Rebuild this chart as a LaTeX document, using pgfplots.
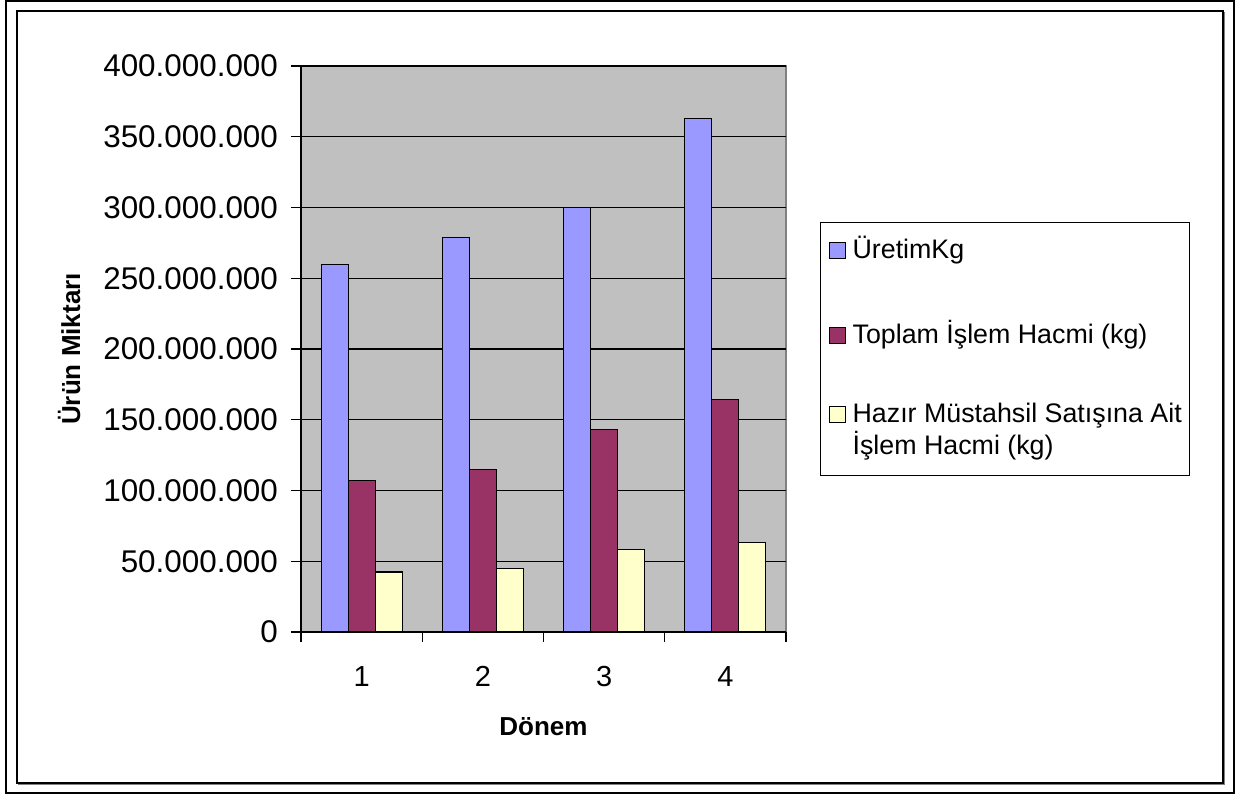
\documentclass[border=0pt]{standalone}
\usepackage{fontspec}
\setmainfont{Liberation Sans}
\usepackage{pgfplots}
\pgfplotsset{compat=1.18}
\definecolor{uretim}{HTML}{9999FF}
\definecolor{toplam}{HTML}{993366}
\definecolor{hazir}{HTML}{FFFFCC}
\definecolor{plotbg}{HTML}{C0C0C0}

\begin{document}
\begin{tikzpicture}
\path[use as bounding box] (0,0) rectangle (626.5pt,397pt);
% outer frames
\draw[line width=1pt] (3pt,0.5pt) rectangle (617pt,396.5pt);
\draw[gray, line width=0.75pt] (9.25pt,4.75pt) rectangle (612.25pt,390.75pt);
\draw[line width=0.75pt, fill=white] (8.5pt,5.5pt) rectangle (611.5pt,391.5pt);
\begin{axis}[
  at={(150.5pt,81pt)}, anchor=south west,
  scale only axis, width=242.5pt, height=283pt,
  ybar=0pt, bar width=0.2227,
  xmin=0.5, xmax=4.5, ymin=0, ymax=400000000,
  axis x line*=bottom, axis y line*=left,
  axis line style={black, line width=0.6pt},
  axis background/.style={fill=plotbg, draw=gray, line width=0.6pt},
  xtick={0.5,1.5,2.5,3.5,4.5},
  xticklabels={1,2,3,4},
  x tick label as interval,
  ytick={0,50000000,100000000,150000000,200000000,250000000,300000000,350000000,400000000},
  scaled y ticks=false,
  yticklabel style={font=\fontsize{15.7}{18}\selectfont, xshift=-3pt,
    /pgf/number format/fixed, /pgf/number format/precision=0,
    /pgf/number format/1000 sep={.}, /pgf/number format/assume math mode=true},
  xticklabel style={font=\fontsize{14.5}{17}\selectfont, yshift=-8.5pt,
    /pgf/number format/assume math mode=true},
  tick align=outside, major tick length=5pt,
  tick style={black, line width=0.6pt},
  ymajorgrids, major grid style={black, line width=0.6pt},
  ylabel={Ürün Miktarı}, xlabel={Dönem},
  label style={font=\fontsize{13}{15}\selectfont\bfseries},
  ylabel style={at={(axis description cs:-0.478,0.5)}, anchor=center},
  xlabel style={at={(axis description cs:0.5,-0.168)}, anchor=center},
  legend style={at={(axis description cs:1.0701,0.7244)}, anchor=north west,
    draw=black, line width=0.6pt, inner xsep=4pt, inner ysep=6.5pt, row sep=0pt,
    font=\fontsize{13.4}{16}\selectfont,
    nodes={inner sep=0pt, text depth=},
    cells={anchor=base west},
    /tikz/every odd column/.append style={column sep=3.5pt}},
  legend image code/.code={\draw[#1, line width=0.5pt] (0pt,0pt) rectangle (8pt,8pt);},
]
\addplot[fill=uretim, draw=black, line width=0.6pt]
  coordinates {(1,260000000)(2,279000000)(3,300000000)(4,363000000)};
\addlegendentry{\rule[-31pt]{0pt}{42.5pt}ÜretimKg}
\addplot[fill=toplam, draw=black, line width=0.6pt]
  coordinates {(1,107000000)(2,115000000)(3,143000000)(4,164500000)};
\addlegendentry{\rule[-28.5pt]{0pt}{39.5pt}Toplam İşlem Hacmi (kg)}
\addplot[fill=hazir, draw=black, line width=0.6pt]
  coordinates {(1,42400000)(2,44800000)(3,58300000)(4,63200000)};
\addlegendentry{\rule[-4pt]{0pt}{15pt}Hazır Müstahsil Satışına Ait}
\addlegendimage{empty legend}
\addlegendentry{\rule[-4pt]{0pt}{15pt}İşlem Hacmi (kg)}
\end{axis}
\end{tikzpicture}
\end{document}
